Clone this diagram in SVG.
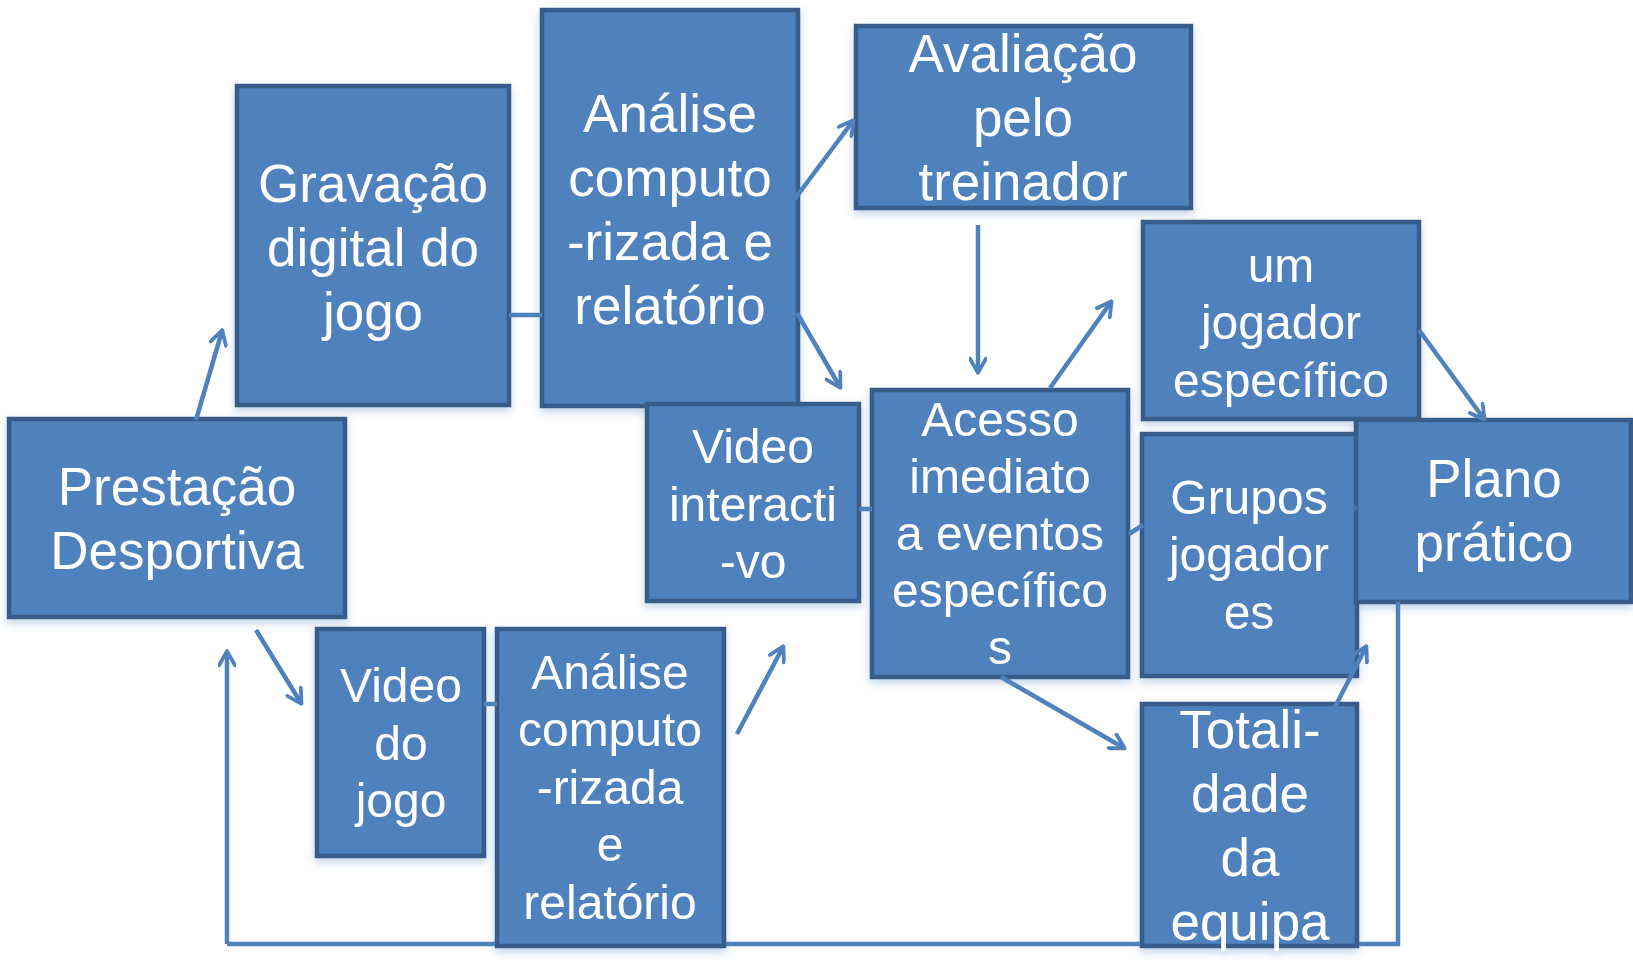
<svg xmlns="http://www.w3.org/2000/svg" width="1633" height="960" viewBox="0 0 1633 960">
<style>
.box{fill:#4F81BD;stroke:#385D8A;stroke-width:4.5}
.t{font-family:"Liberation Sans",Arial,sans-serif;fill:#FFFFFF;text-anchor:middle}
.l{font-size:53px}
.s{font-size:48px}
.c{fill:none;stroke:#4F81BD;stroke-width:4.5}
.a{marker-end:url(#arr)}
</style>
<defs>
<marker id="arr" viewBox="0 0 10 10" refX="8.5" refY="5" markerWidth="4.2" markerHeight="4.2" orient="auto">
<path d="M1.5,0.8 L9,5 L1.5,9.2" fill="none" stroke="#4F81BD" stroke-width="2" stroke-linejoin="round" stroke-linecap="round"/>
</marker>
<filter id="sh" x="-10%" y="-10%" width="120%" height="125%">
<feGaussianBlur in="SourceAlpha" stdDeviation="4"/>
<feOffset dx="0" dy="4" result="b"/>
<feFlood flood-color="#4F81BD" flood-opacity="0.35"/>
<feComposite in2="b" operator="in"/>
<feMerge><feMergeNode/><feMergeNode in="SourceGraphic"/></feMerge>
</filter>
</defs>
<rect width="1633" height="960" fill="#FFFFFF"/>
<g id="nodes" filter="url(#sh)">
<g id="prestacao"><rect class="box" x="9" y="419" width="336" height="198"/>
<text class="t l" x="177"><tspan x="177" y="505">Prestação</tspan><tspan x="177" y="569">Desportiva</tspan></text></g>
<g id="gravacao"><rect class="box" x="237" y="86" width="272" height="319"/>
<text class="t l"><tspan x="373" y="202">Gravação</tspan><tspan x="373" y="266">digital do</tspan><tspan x="373" y="330">jogo</tspan></text></g>
<g id="analise-top"><rect class="box" x="542" y="10" width="256" height="396"/>
<text class="t l"><tspan x="670" y="132">Análise</tspan><tspan x="670" y="196">computo</tspan><tspan x="670" y="260">-rizada e</tspan><tspan x="670" y="324">relatório</tspan></text></g>
<g id="avaliacao"><rect class="box" x="856" y="26" width="335" height="182"/>
<text class="t l"><tspan x="1023" y="72">Avaliação</tspan><tspan x="1023" y="136">pelo</tspan><tspan x="1023" y="200">treinador</tspan></text></g>
<g id="um-jogador"><rect class="box" x="1143" y="222" width="276" height="197"/>
<text class="t s"><tspan x="1281" y="282">um</tspan><tspan x="1281" y="339">jogador</tspan><tspan x="1281" y="397">específico</tspan></text></g>
<g id="video-interactivo"><rect class="box" x="647" y="404" width="212" height="197"/>
<text class="t s"><tspan x="753" y="463">Video</tspan><tspan x="753" y="521">interacti</tspan><tspan x="753" y="578">-vo</tspan></text></g>
<g id="acesso"><rect class="box" x="872" y="390" width="256" height="287"/>
<text class="t s"><tspan x="1000" y="436">Acesso</tspan><tspan x="1000" y="493">imediato</tspan><tspan x="1000" y="550">a eventos</tspan><tspan x="1000" y="607">específico</tspan><tspan x="1000" y="664">s</tspan></text></g>
<g id="grupos"><rect class="box" x="1142" y="434" width="215" height="242"/>
<text class="t s"><tspan x="1249" y="514">Grupos</tspan><tspan x="1249" y="571">jogador</tspan><tspan x="1249" y="629">es</tspan></text></g>
<g id="plano"><rect class="box" x="1356" y="420" width="275" height="182"/>
<text class="t l"><tspan x="1494" y="497">Plano</tspan><tspan x="1494" y="561">prático</tspan></text></g>
<g id="totalidade"><rect class="box" x="1142" y="704" width="215" height="242"/>
<text class="t l"><tspan x="1250" y="748">Totali-</tspan><tspan x="1250" y="812">dade</tspan><tspan x="1250" y="876">da</tspan><tspan x="1250" y="940">equipa</tspan></text></g>
<g id="video-jogo"><rect class="box" x="317" y="629" width="167" height="227"/>
<text class="t s"><tspan x="401" y="702">Video</tspan><tspan x="401" y="760">do</tspan><tspan x="401" y="817">jogo</tspan></text></g>
<g id="analise-bottom"><rect class="box" x="497" y="629" width="227" height="317"/>
<text class="t s"><tspan x="610" y="689">Análise</tspan><tspan x="610" y="746">computo</tspan><tspan x="610" y="804">-rizada</tspan><tspan x="610" y="861">e</tspan><tspan x="610" y="919">relatório</tspan></text></g>
</g>
<g id="connectors">
<line class="c a" x1="196" y1="420" x2="222" y2="331"/>
<line class="c" x1="509" y1="315" x2="542" y2="315"/>
<line class="c a" x1="785" y1="212" x2="853" y2="121"/>
<line class="c a" x1="797" y1="313" x2="840" y2="387"/>
<line class="c a" x1="978" y1="225" x2="978" y2="372"/>
<line class="c a" x1="1050" y1="388" x2="1111" y2="302"/>
<line class="c a" x1="1419" y1="330" x2="1484" y2="419"/>
<line class="c" x1="859" y1="509" x2="872" y2="509"/>
<line class="c" x1="1129" y1="534" x2="1143" y2="525"/>
<line class="c" x1="1331" y1="496" x2="1357" y2="509" stroke-opacity="0.6"/>
<line class="c a" x1="1001" y1="677" x2="1124" y2="748"/>
<line class="c a" x1="1323" y1="730" x2="1366" y2="647"/>
<line class="c a" x1="256" y1="630" x2="301" y2="703"/>
<line class="c" x1="484" y1="704" x2="497" y2="704"/>
<line class="c a" x1="737" y1="734" x2="783" y2="647"/>
<path class="c" d="M1398,602 V944 H1359 M1140,944 H726 M495,944 H227"/>
<path class="c a" d="M227,944 V652"/>
</g>
</svg>
